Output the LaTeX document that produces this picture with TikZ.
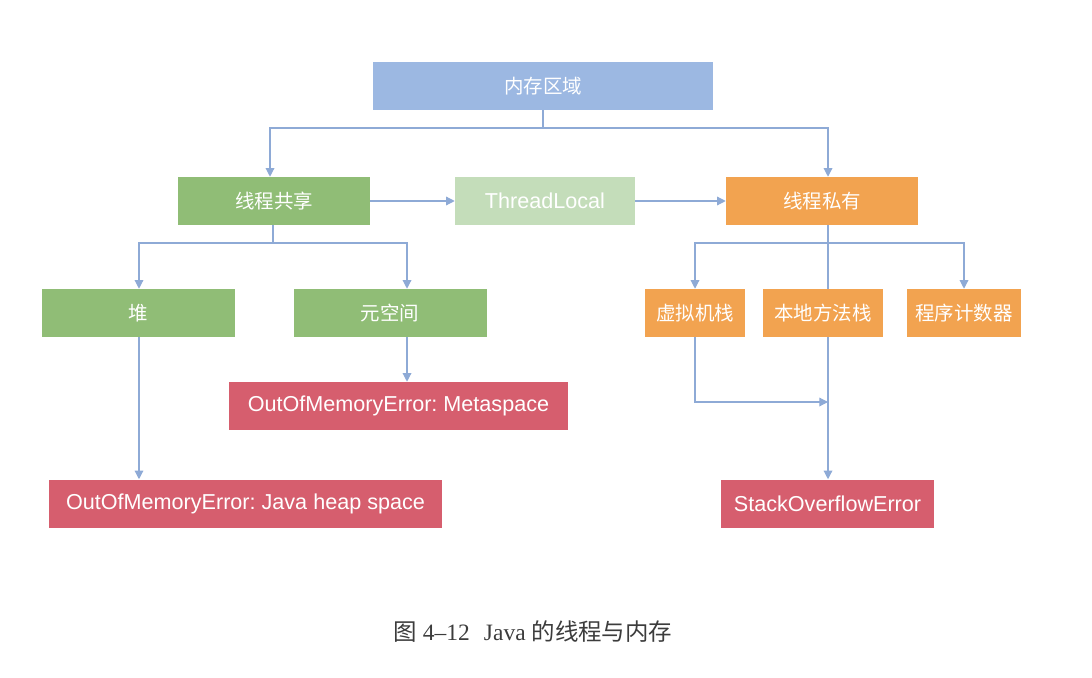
\documentclass[tikz,border=0pt]{standalone}
\usepackage{fontspec}
\setmainfont{Liberation Serif}
\newfontfamily\cjk{Noto Sans CJK SC}
\newfontfamily\boxfont{Liberation Sans}
\usetikzlibrary{arrows.meta}
\definecolor{areablue}{RGB}{156,184,226}
\definecolor{sharegreen}{RGB}{144,189,118}
\definecolor{tlgreen}{RGB}{196,221,186}
\definecolor{privorange}{RGB}{242,163,80}
\definecolor{errred}{RGB}{214,94,110}
\definecolor{linkblue}{RGB}{142,170,214}
\definecolor{captiongray}{RGB}{60,60,60}
\frenchspacing
\tikzset{
  box/.style={rectangle, inner sep=0pt, minimum height=36pt, text=white,
    font=\boxfont\fontsize{16.2}{18}\selectfont},
  cbox/.style={box, font=\cjk\fontsize{14.6}{16}\selectfont},
  link/.style={draw=linkblue, line width=0.9pt},
  arr/.style={link, -{Triangle[length=6.5pt,width=6.5pt]}},
}
\begin{document}
\begin{tikzpicture}[x=0.75pt,y=-0.75pt]
\useasboundingbox (0,0) rectangle (1092,678);

% boxes
\node[cbox, fill=areablue, minimum width=255pt] (area) at (543,86) {内存区域};
\node[cbox, fill=sharegreen, minimum width=144pt] (shared) at (274,201) {线程共享};
\node[box, fill=tlgreen, minimum width=135pt] (tl) at (545,201) {ThreadLocal};
\node[cbox, fill=privorange, minimum width=144pt] (priv) at (822,201) {线程私有};
\node[cbox, fill=sharegreen, minimum width=144.75pt] (heap) at (138,313) {堆};
\node[cbox, fill=sharegreen, minimum width=144.75pt] (meta) at (390,313) {元空间};
\node[cbox, fill=privorange, minimum width=75pt] (vms) at (695,313) {虚拟机栈};
\node[cbox, fill=privorange, minimum width=90pt] (nms) at (823,313) {本地方法栈};
\node[cbox, fill=privorange, minimum width=85.5pt] (pc) at (964,313) {程序计数器};
\node[box, fill=errred, minimum width=254.25pt] (oomm) at (398.5,406) {OutOfMemoryError: Metaspace};
\node[box, fill=errred, minimum width=294.75pt] (oomh) at (245.5,503.5) {OutOfMemoryError: Java heap space};
\node[box, fill=errred, minimum width=159.75pt] (soe) at (827.5,503.5) {StackOverflowError};

% guide columns for the connectors
\coordinate (heapx) at (139,0);
\coordinate (metax) at (407,0);
\coordinate (trunkx) at (828,0);
\coordinate (topbus) at (543,128);
\coordinate (sharebus) at (273,243);
\coordinate (privbus) at (828,243);
\coordinate (join) at (828,402);

% memory area splits into shared and private
\draw[link] (area.south) -- (topbus);
\draw[arr] (topbus) -| ([xshift=-3pt]shared.north);
\draw[arr] (topbus) -| (priv.north -| trunkx);

% ThreadLocal bridges the two
\draw[arr] (shared.east) -- (tl.west);
\draw[arr] (tl.east) -- (priv.west);

% shared areas
\draw[link] (shared.south -| sharebus) -- (sharebus);
\draw[arr] (sharebus) -| (heap.north -| heapx);
\draw[arr] (sharebus) -| (meta.north -| metax);
\draw[arr] (meta.south -| metax) -- (oomm.north -| metax);
\draw[arr] (heap.south -| heapx) -- (oomh.north -| heapx);

% private areas
\draw[link] (priv.south -| trunkx) -- (nms.north -| trunkx);
\draw[arr] (privbus) -| (vms.north);
\draw[arr] (privbus) -| (pc.north);
\draw[arr] (nms.south -| trunkx) -- (soe.north -| trunkx);
\draw[arr] (vms.south) |- (join);

% caption
\node[text=captiongray, font=\fontsize{17.6}{20}\selectfont, anchor=center] (cap) at (533,632)
  {{\cjk 图} 4--12\hspace{0.6em}Java {\cjk 的线程与内存}};
\end{tikzpicture}
\end{document}
